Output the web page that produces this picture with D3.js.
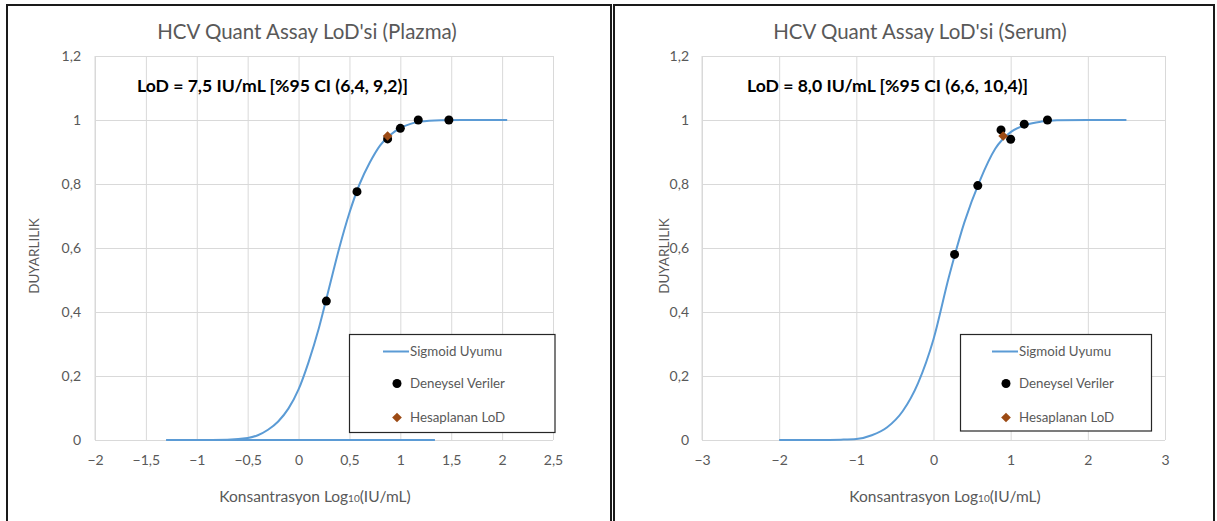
<!DOCTYPE html>
<html>
<head>
<meta charset="utf-8">
<script src="https://cdn.jsdelivr.net/npm/d3@7"></script>
<style>
  body { margin: 0; background: #fff; }
  svg { display: block; font-family: Lato, "Open Sans", sans-serif; }
</style>
</head>
<body>
<div id="renderer"></div>
<script>
// --- data ---
const yTicks = [0, 0.2, 0.4, 0.6, 0.8, 1, 1.2];

// Plazma panel
const plazmaXTicks = [-2, -1.5, -1, -0.5, 0, 0.5, 1, 1.5, 2, 2.5];
const plazmaFitX = [-1.3, -1.0, -0.7, -0.5, -0.4, -0.3, -0.2, -0.1, 0, 0.1, 0.2, 0.3, 0.4, 0.5, 0.6, 0.7, 0.8, 0.9, 1.0, 1.1, 1.2, 1.4, 1.6, 2.05];
const plazmaFitY = [0, 0, 0.001, 0.006, 0.015, 0.032, 0.058, 0.098, 0.158, 0.245, 0.35, 0.475, 0.60, 0.71, 0.80, 0.867, 0.92, 0.953, 0.975, 0.988, 0.995, 0.999, 1.0, 1.0];
const plazmaBaseX = [-1.3, 1.34];
const plazmaBaseY = [0, 0];
const plazmaDataX = [0.273, 0.574, 0.875, 1.0, 1.176, 1.477];
const plazmaDataY = [0.434, 0.776, 0.941, 0.974, 1.0, 1.0];
const plazmaLodX = [0.875];
const plazmaLodY = [0.95];

// Serum panel
const serumXTicks = [-3, -2, -1, 0, 1, 2, 3];
const serumFitX = [-2, -1.5, -1.2, -1.0, -0.8, -0.6, -0.4, -0.2, 0, 0.2, 0.4, 0.6, 0.8, 1.0, 1.2, 1.4, 1.6, 2.0, 2.5];
const serumFitY = [0, 0, 0.001, 0.003, 0.015, 0.04, 0.09, 0.178, 0.315, 0.51, 0.68, 0.81, 0.91, 0.962, 0.985, 0.995, 0.999, 1.0, 1.0];
const serumDataX = [0.273, 0.574, 0.875, 1.0, 1.176, 1.477];
const serumDataY = [0.58, 0.795, 0.969, 0.940, 0.987, 1.0];
const serumLodX = [0.903];
const serumLodY = [0.95];

const titles = ["HCV Quant Assay LoD'si (Plazma)", "HCV Quant Assay LoD'si (Serum)"];
const lodLabels = ["LoD = 7,5 IU/mL [%95 CI (6,4, 9,2)]", "LoD = 8,0 IU/mL [%95 CI (6,6, 10,4)]"];
const legendLabels = ["Sigmoid Uyumu", "Deneysel Veriler", "Hesaplanan LoD"];

const width = 1217, height = 521;
const fitColor = "#5b9bd5", lodColor = "#9c4a14", textColor = "#595959", gridColor = "#d9d9d9";

const locale = d3.formatLocale({ decimal: ",", thousands: ".", grouping: [3], currency: ["", ""] });
const fmt = locale.format("~g");

const svg = d3.select("#renderer").append("svg")
    .attr("width", width)
    .attr("height", height);

function zip(xs, ys) { return xs.map((x, i) => ({ x: x, y: ys[i] })); }

function drawPanel(p) {
    // panel frame
    svg.append("rect")
        .attr("x", p.frame[0]).attr("y", p.frame[1])
        .attr("width", p.frame[2]).attr("height", p.frame[3])
        .attr("fill", "none").attr("stroke", "#1a1a1a").attr("stroke-width", 2);

    const x = d3.scaleLinear().domain(p.xDomain).range(p.xRange);
    const y = d3.scaleLinear().domain([0, 1.2]).range([440, 56]);
    const plotW = p.xRange[1] - p.xRange[0];
    const plotH = 440 - 56;

    // x gridlines + labels
    const gx = svg.append("g")
        .attr("transform", `translate(0,440)`)
        .call(d3.axisBottom(x).tickValues(p.xTicks).tickSize(-plotH).tickPadding(15).tickFormat(fmt));
    gx.select(".domain").remove();
    gx.selectAll("line").attr("stroke", gridColor);
    gx.selectAll("text").attr("fill", textColor).attr("font-size", "14px").attr("font-family", "Lato, sans-serif");

    // y gridlines + labels
    const gy = svg.append("g")
        .attr("transform", `translate(${p.xRange[0]},0)`)
        .call(d3.axisLeft(y).tickValues(yTicks).tickSize(-plotW).tickPadding(p.yPad).tickFormat(fmt));
    gy.select(".domain").remove();
    gy.selectAll("line").attr("stroke", gridColor);
    gy.selectAll("text").attr("fill", textColor).attr("font-size", "14px").attr("font-family", "Lato, sans-serif");

    // left edge of plot area
    svg.append("line")
        .attr("x1", p.xRange[0]).attr("x2", p.xRange[0])
        .attr("y1", 56).attr("y2", 440)
        .attr("stroke", gridColor);

    // title
    svg.append("text")
        .attr("x", p.titleX).attr("y", 39)
        .attr("text-anchor", "middle")
        .attr("font-size", "20.5px")
        .attr("fill", textColor)
        .text(p.title);

    // LoD annotation
    svg.append("text")
        .attr("x", p.lodLabelX).attr("y", 92)
        .attr("font-size", "17.6px")
        .attr("font-weight", "bold")
        .attr("fill", "#000")
        .text(p.lodLabel);

    // axis titles
    const xt = svg.append("text")
        .attr("x", p.xTitleX).attr("y", 502)
        .attr("text-anchor", "middle")
        .attr("font-size", "15.5px")
        .attr("fill", textColor);
    xt.append("tspan").text("Konsantrasyon Log");
    xt.append("tspan").attr("font-size", "10px").text("10");
    xt.append("tspan").text("(IU/mL)");

    svg.append("text")
        .attr("transform", `translate(${p.yTitleX},256) rotate(-90)`)
        .attr("text-anchor", "middle")
        .attr("font-size", "13.5px")
        .attr("fill", textColor)
        .text("DUYARLILIK");

    const line = d3.line()
        .curve(d3.curveMonotoneX)
        .x(d => x(d.x))
        .y(d => y(d.y));

    // baseline segment of the fit series
    if (p.base) {
        svg.append("path")
            .datum(p.base)
            .attr("d", line)
            .attr("fill", "none")
            .attr("stroke", fitColor)
            .attr("stroke-width", 2);
    }

    svg.append("path")
        .datum(p.fit)
        .attr("d", line)
        .attr("fill", "none")
        .attr("stroke", fitColor)
        .attr("stroke-width", 2);

    svg.append("g").selectAll("circle")
        .data(p.points)
        .join("circle")
        .attr("cx", d => x(d.x))
        .attr("cy", d => y(d.y))
        .attr("r", 4.5)
        .attr("fill", "#000");

    const diamond = d3.symbol().type(d3.symbolDiamond2).size(60);
    svg.append("g").selectAll("path")
        .data(p.lod)
        .join("path")
        .attr("transform", d => `translate(${x(d.x)},${y(d.y)})`)
        .attr("d", diamond)
        .attr("fill", lodColor);

    // legend
    const lg = p.legend;
    svg.append("rect")
        .attr("x", lg.x).attr("y", lg.y)
        .attr("width", lg.w).attr("height", lg.h)
        .attr("fill", "#fff")
        .attr("stroke", "#262626")
        .attr("stroke-width", 1.2);
    const rows = [lg.y + 17, lg.y + 49, lg.y + 83];
    svg.append("line")
        .attr("x1", lg.markX - 14).attr("x2", lg.markX + 12)
        .attr("y1", rows[0]).attr("y2", rows[0])
        .attr("stroke", fitColor).attr("stroke-width", 2);
    svg.append("circle")
        .attr("cx", lg.markX).attr("cy", rows[1]).attr("r", 4.5).attr("fill", "#000");
    svg.append("path")
        .attr("transform", `translate(${lg.markX},${rows[2]})`)
        .attr("d", diamond).attr("fill", lodColor);
    legendLabels.forEach((t, i) => {
        svg.append("text")
            .attr("x", lg.markX + 13).attr("y", rows[i])
            .attr("dy", "0.35em")
            .attr("font-size", "13.3px")
            .attr("fill", textColor)
            .text(t);
    });
}

drawPanel({
    frame: [7, 5, 604, 530],
    xDomain: [-2, 2.5], xRange: [95, 553], xTicks: plazmaXTicks, yPad: 14,
    title: titles[0], titleX: 307,
    lodLabel: lodLabels[0], lodLabelX: 137,
    xTitleX: 315, yTitleX: 39,
    fit: zip(plazmaFitX, plazmaFitY),
    base: zip(plazmaBaseX, plazmaBaseY),
    points: zip(plazmaDataX, plazmaDataY),
    lod: zip(plazmaLodX, plazmaLodY),
    legend: { x: 349.5, y: 334.5, w: 205.5, h: 98, markX: 397 }
});

drawPanel({
    frame: [614, 5, 600, 530],
    xDomain: [-3, 3], xRange: [702, 1165], xTicks: serumXTicks, yPad: 13,
    title: titles[1], titleX: 920,
    lodLabel: lodLabels[1], lodLabelX: 747,
    xTitleX: 945, yTitleX: 669,
    fit: zip(serumFitX, serumFitY),
    base: null,
    points: zip(serumDataX, serumDataY),
    lod: zip(serumLodX, serumLodY),
    legend: { x: 960.5, y: 334.5, w: 191, h: 96.5, markX: 1006 }
});
</script>
</body>
</html>
